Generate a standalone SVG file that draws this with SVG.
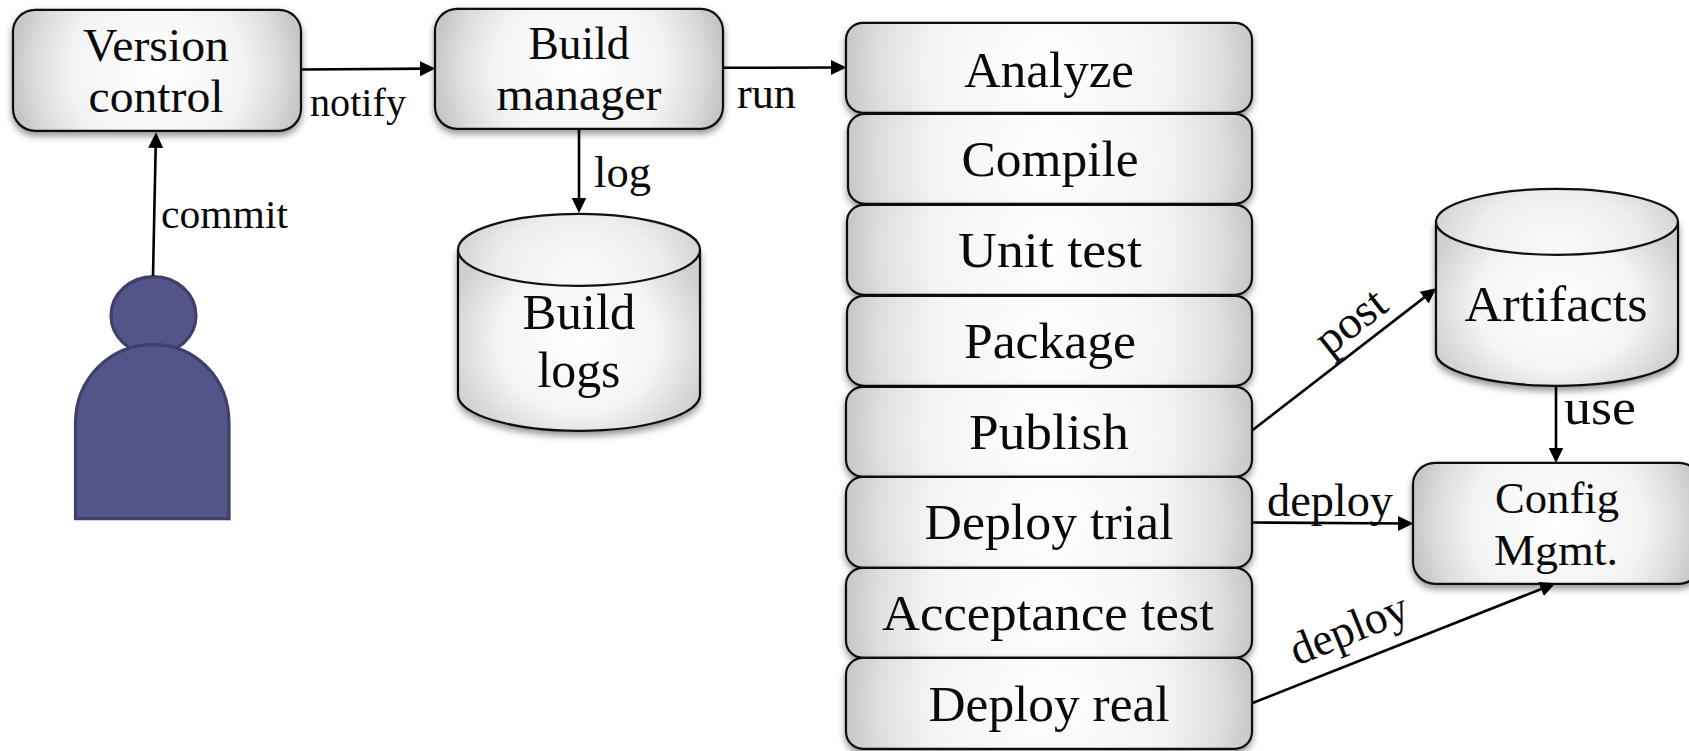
<svg xmlns="http://www.w3.org/2000/svg" width="1689" height="751" viewBox="0 0 1689 751">
<style>
text{font-family:"Liberation Serif","Times New Roman",serif;fill:#0a0a0a;text-anchor:middle}
.l{text-anchor:start}
.box{stroke:#111;stroke-width:2.2;filter:url(#sh);transform:translateY(.8px)}
.cyl{stroke:#111;stroke-width:2.2;transform:translateY(.8px)}
.cn{fill:none;stroke:#000;stroke-width:2.6;marker-end:url(#ah)}
.p{fill:#53548a;stroke:#3f3f6a;stroke-width:3.2;transform:translateY(.6px)}
.s51{font-size:51px}.s46{font-size:46px}.s44{font-size:44px}.s41{font-size:41px}
</style>
<defs>
<filter id="sh" x="-10%" y="-15%" width="120%" height="135%"><feDropShadow dx="0" dy="4" stdDeviation="3.5" flood-color="#000" flood-opacity=".42"/></filter>
<radialGradient id="gb" cx=".5" cy=".5" r=".5" gradientTransform="translate(.5 .5) scale(1 2.4) translate(-.5 -.5)"><stop offset="0" stop-color="#fff"/><stop offset=".6" stop-color="#f3f3f3"/><stop offset=".85" stop-color="#dcdcdc"/><stop offset="1" stop-color="#c6c6c6"/></radialGradient>
<radialGradient id="gs" cx=".5" cy=".5" r=".5" gradientTransform="translate(.5 .5) scale(1 4.5) translate(-.5 -.5)"><stop offset="0" stop-color="#fff"/><stop offset=".6" stop-color="#f3f3f3"/><stop offset=".85" stop-color="#dedede"/><stop offset="1" stop-color="#c8c8c8"/></radialGradient>
<radialGradient id="gc" cx=".5" cy=".5" r=".56" gradientTransform="translate(.5 .5) scale(1 1.2) translate(-.5 -.5)"><stop offset="0" stop-color="#fff"/><stop offset=".6" stop-color="#f4f4f4"/><stop offset="1" stop-color="#cfcfcf"/></radialGradient>
<radialGradient id="gt" cx=".5" cy=".85" r=".56" gradientTransform="translate(.5 .85) scale(1 2.4) translate(-.5 -.85)"><stop offset="0" stop-color="#fafafa"/><stop offset=".6" stop-color="#eeeeee"/><stop offset="1" stop-color="#cfcfcf"/></radialGradient>
<marker id="ah" markerUnits="userSpaceOnUse" markerWidth="16" markerHeight="16" viewBox="0 0 16 16" refX="11" refY="8" orient="auto"><path d="M0 0.5L15.5 8L0 15.5z" fill="#000"/></marker>
</defs>

<g id="version-control"><rect class="box" fill="url(#gb)" x="13" y="9" width="288" height="121" rx="22"/><text class="s46" x="156" y="61" textLength="146" lengthAdjust="spacingAndGlyphs">Version</text><text class="s46" x="156" y="111.500" textLength="135" lengthAdjust="spacingAndGlyphs">control</text></g>
<g id="build-manager"><rect class="box" fill="url(#gb)" x="435" y="8" width="288" height="120" rx="22"/><text class="s46" x="579" y="59" textLength="101" lengthAdjust="spacingAndGlyphs">Build</text><text class="s46" x="579" y="110" textLength="165" lengthAdjust="spacingAndGlyphs">manager</text></g>

<g id="analyze"><rect class="box" fill="url(#gs)" x="846" y="22" width="406" height="90" rx="17"/><text class="s51" x="1049" y="86.500" textLength="170" lengthAdjust="spacingAndGlyphs">Analyze</text></g>
<g id="compile"><rect class="box" fill="url(#gs)" x="848" y="113" width="404" height="90" rx="17"/><text class="s51" x="1050" y="176" textLength="177" lengthAdjust="spacingAndGlyphs">Compile</text></g>
<g id="unit-test"><rect class="box" fill="url(#gs)" x="847" y="204" width="405" height="90" rx="17"/><text class="s51" x="1050" y="267" textLength="184" lengthAdjust="spacingAndGlyphs">Unit test</text></g>
<g id="package"><rect class="box" fill="url(#gs)" x="847" y="295" width="405" height="90" rx="17"/><text class="s51" x="1050" y="358" textLength="172" lengthAdjust="spacingAndGlyphs">Package</text></g>
<g id="publish"><rect class="box" fill="url(#gs)" x="846" y="386" width="406" height="90" rx="17"/><text class="s51" x="1049" y="449" textLength="160" lengthAdjust="spacingAndGlyphs">Publish</text></g>
<g id="deploy-trial"><rect class="box" fill="url(#gs)" x="846" y="476" width="406" height="91" rx="17"/><text class="s51" x="1049" y="539" textLength="249" lengthAdjust="spacingAndGlyphs">Deploy trial</text></g>
<g id="acceptance-test"><rect class="box" fill="url(#gs)" x="846" y="567" width="406" height="90" rx="17"/><text class="s51" x="1048" y="630" textLength="332" lengthAdjust="spacingAndGlyphs">Acceptance test</text></g>
<g id="deploy-real"><rect class="box" fill="url(#gs)" x="846" y="657" width="406" height="91" rx="17"/><text class="s51" x="1049" y="721" textLength="241" lengthAdjust="spacingAndGlyphs">Deploy real</text></g>

<g id="build-logs"><g filter="url(#sh)"><path class="cyl" fill="url(#gc)" d="M458 249V394A121 36 0 0 0 700 394V249z"/></g><ellipse class="cyl" fill="url(#gt)" cx="579" cy="249" rx="121" ry="36"/><text class="s51" x="579" y="329" textLength="113" lengthAdjust="spacingAndGlyphs">Build</text><text class="s51" x="579" y="387" textLength="83" lengthAdjust="spacingAndGlyphs">logs</text></g>
<g id="artifacts"><g filter="url(#sh)"><path class="cyl" fill="url(#gc)" d="M1436 221V352A121 33 0 0 0 1678 352V221z"/></g><ellipse class="cyl" fill="url(#gt)" cx="1557" cy="221" rx="121" ry="33"/><text class="s51" x="1556" y="321" textLength="183" lengthAdjust="spacingAndGlyphs">Artifacts</text></g>
<g id="config-mgmt"><rect class="box" fill="url(#gb)" x="1413" y="462" width="288" height="121" rx="22"/><text class="s44" x="1557" y="513" textLength="124" lengthAdjust="spacingAndGlyphs">Config</text><text class="s44" x="1556" y="565" textLength="124" lengthAdjust="spacingAndGlyphs">Mgmt.</text></g>

<g id="person"><ellipse class="p" cx="153.500" cy="315" rx="42.500" ry="39"/><path class="p" d="M75.500 518V423C75.500 378 110 344 153 344S229 378 229 423V518z"/></g>

<g id="connectors">
<path class="cn" d="M153 276L155.900 136.800"/>
<path class="cn" d="M301 69.500L431 68.600"/>
<path class="cn" d="M723 67.800L842 67.500"/>
<path class="cn" d="M579 129.500V208.500"/>
<path class="cn" d="M1252 430.500L1432.800 290.900"/>
<path class="cn" d="M1556 385.500V458.500"/>
<path class="cn" d="M1252 522.500L1409 523.500"/>
<path class="cn" d="M1252.500 703L1551.300 585"/>
<text class="s41 l" x="310" y="116" textLength="96" lengthAdjust="spacingAndGlyphs">notify</text>
<text class="s41 l" x="161" y="228" textLength="127" lengthAdjust="spacingAndGlyphs">commit</text>
<text class="s44 l" x="737" y="108" textLength="59" lengthAdjust="spacingAndGlyphs">run</text>
<text class="s44 l" x="594" y="186.500" textLength="57" lengthAdjust="spacingAndGlyphs">log</text>
<text class="s51 l" x="1564" y="424" textLength="72" lengthAdjust="spacingAndGlyphs">use</text>
<text class="s46 l" x="1267" y="515.500" textLength="126" lengthAdjust="spacingAndGlyphs">deploy</text>
<text class="s46 l" transform="translate(1297 666) rotate(-22)" x="0" y="0" textLength="124" lengthAdjust="spacingAndGlyphs">deploy</text>
<text class="s46 l" transform="translate(1329 357) rotate(-38)" x="0" y="0" textLength="78" lengthAdjust="spacingAndGlyphs">post</text>
</g>
</svg>
